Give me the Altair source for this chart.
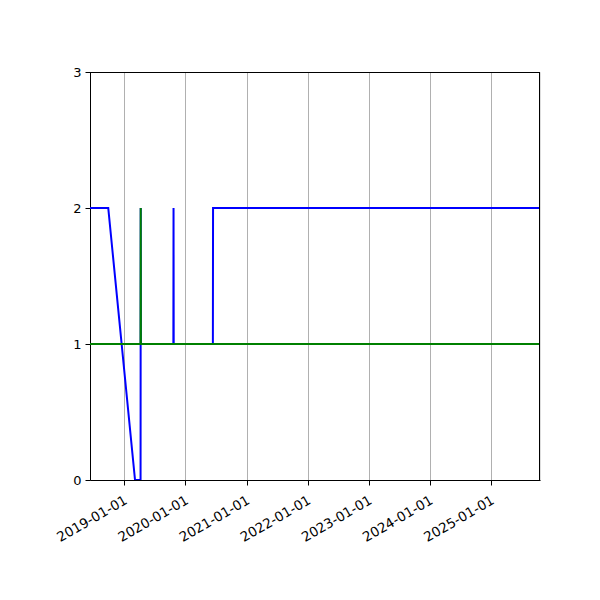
import altair as alt
import pandas as pd

blue_dates = ["2018-06-10", "2018-09-27", "2019-03-06", "2019-04-08", "2019-04-09",
              "2019-04-10", "2019-10-21", "2019-10-22", "2019-10-23", "2020-06-13",
              "2020-06-14", "2025-10-19"]
blue_values = [2, 2, 0, 0, 2, 1, 1, 2, 1, 1, 2, 2]

green_dates = ["2018-06-10", "2019-04-08", "2019-04-09", "2019-04-10", "2025-10-19"]
green_values = [1, 1, 2, 1, 1]

tick_years = [2019, 2020, 2021, 2022, 2023, 2024, 2025]
y_ticks = [0, 1, 2, 3]

blue_df = pd.DataFrame({"date": blue_dates, "value": blue_values})
green_df = pd.DataFrame({"date": green_dates, "value": green_values})

font = "DejaVu Sans"
W, H = 450, 408

x_scale = alt.Scale(type="utc",
                    domain=[alt.DateTime(year=2018, month=6, date=10, utc=True),
                            alt.DateTime(year=2025, month=10, date=19, utc=True)],
                    nice=False)
y_scale = alt.Scale(domain=[0, 3], nice=False, zero=False)

x_axis = alt.Axis(values=[alt.DateTime(year=y, month=1, date=1, utc=True) for y in tick_years],
                  format="%Y-%m-%d", labelAngle=-30, labelAlign="right", labelBaseline="top",
                  grid=True, gridColor="#b0b0b0", gridWidth=1,
                  domainColor="black", domainWidth=1, tickColor="black", tickSize=5, tickWidth=1,
                  labelColor="black", labelFont=font, labelFontSize=13.5, labelPadding=8,
                  labelOffset=-2,
                  title=None, labelOverlap=False, labelFlush=False)
y_axis = alt.Axis(values=y_ticks, format="d", grid=False,
                  domainColor="black", domainWidth=1, tickColor="black", tickSize=5, tickWidth=1,
                  labelColor="black", labelFont=font, labelFontSize=13, labelPadding=4,
                  title=None)

blue = alt.Chart(blue_df).mark_line(color="blue", strokeWidth=2, clip=True).encode(
    x=alt.X("date:T", scale=x_scale, axis=x_axis),
    y=alt.Y("value:Q", scale=y_scale, axis=y_axis),
)
green = alt.Chart(green_df).mark_line(color="green", strokeWidth=2, clip=True).encode(
    x=alt.X("date:T", scale=x_scale),
    y=alt.Y("value:Q", scale=y_scale),
)

top_spine = alt.Chart(blue_df).mark_rule(color="black", strokeWidth=1).encode(
    x=alt.value(0), x2=alt.value(W), y=alt.value(0.5))
right_spine = alt.Chart(blue_df).mark_rule(color="black", strokeWidth=1).encode(
    x=alt.value(W - 0.5), y=alt.value(0), y2=alt.value(H))

chart = alt.layer(blue, green, top_spine, right_spine).properties(
    width=W, height=H,
    autosize=alt.AutoSizeParams(type="none"),
    padding={"left": 82, "top": 64, "right": 50, "bottom": 100},
).configure_view(strokeOpacity=0).configure(background="white")

chart.save("out.html", embed_options={"renderer": "svg", "actions": False})
